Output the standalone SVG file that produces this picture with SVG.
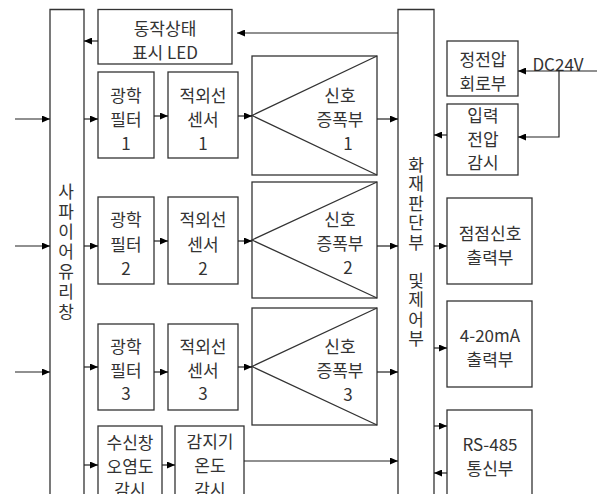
<svg xmlns="http://www.w3.org/2000/svg" width="597" height="494" viewBox="0 0 597 494">
<defs>
<marker id="ah" markerWidth="8" markerHeight="7" refX="8" refY="3.5" orient="auto" markerUnits="userSpaceOnUse">
<path d="M0,0 L8,3.5 L0,7 z" fill="#000"/>
</marker>
<style>
.b{fill:#fff;stroke:#333;stroke-width:1.3}
.l{fill:none;stroke:#333;stroke-width:1.3}
.c{fill:none;stroke:#222;stroke-width:1.2;marker-end:url(#ah)}
text{font-family:"Noto Sans CJK KR","Liberation Sans",sans-serif;font-size:17px;fill:#333;text-anchor:middle;dominant-baseline:central}
.v{writing-mode:vertical-rl;text-orientation:upright;text-anchor:start}
</style>
</defs>
<rect width="597" height="494" fill="#fff"/>
<g id="glass"><path class="l" d="M50,494 V9.5 H84 V494"/>
<text class="v" x="66" y="183" style="letter-spacing:3px">사파이어유리창</text></g>
<g id="control"><path class="l" d="M398,494 V9.5 H434 V494"/>
<text class="v" x="416" y="156" style="letter-spacing:2.5px">화재판단부</text>
<text class="v" x="416" y="272" style="letter-spacing:2.5px">및제어부</text></g>
<g id="led"><rect class="b" x="98" y="9.5" width="134" height="54.5"/><text x="165" y="27"><tspan x="165">동작상태</tspan><tspan x="165" dy="24">표시 LED</tspan></text></g>
<g id="filter1"><rect class="b" x="98" y="72" width="56" height="86"/><text y="94"><tspan x="126">광학</tspan><tspan x="126" dy="24">필터</tspan><tspan x="126" dy="24">1</tspan></text></g>
<g id="sensor1"><rect class="b" x="168" y="72" width="70" height="86"/><text y="94"><tspan x="203">적외선</tspan><tspan x="203" dy="24">센서</tspan><tspan x="203" dy="24">1</tspan></text></g>
<g id="filter2"><rect class="b" x="98" y="197" width="56" height="87"/><text y="218"><tspan x="126">광학</tspan><tspan x="126" dy="25">필터</tspan><tspan x="126" dy="24">2</tspan></text></g>
<g id="sensor2"><rect class="b" x="168" y="197" width="70" height="87"/><text y="218"><tspan x="203">적외선</tspan><tspan x="203" dy="25">센서</tspan><tspan x="203" dy="24">2</tspan></text></g>
<g id="filter3"><rect class="b" x="98" y="324" width="56" height="86"/><text y="345"><tspan x="126">광학</tspan><tspan x="126" dy="24">필터</tspan><tspan x="126" dy="23">3</tspan></text></g>
<g id="sensor3"><rect class="b" x="168" y="324" width="70" height="86"/><text y="345"><tspan x="203">적외선</tspan><tspan x="203" dy="24">센서</tspan><tspan x="203" dy="23">3</tspan></text></g>
<g id="amp1"><rect class="b" x="252" y="56" width="125" height="119"/><path class="l" d="M377,56 L252,115.5 L377,175"/><text y="94"><tspan x="340">신호</tspan><tspan x="340" dy="24">증폭부</tspan><tspan x="348" dy="23.5">1</tspan></text></g>
<g id="amp2"><rect class="b" x="252" y="182" width="125" height="116"/><path class="l" d="M377,182 L252,240 L377,298"/><text y="218"><tspan x="340">신호</tspan><tspan x="340" dy="24">증폭부</tspan><tspan x="348" dy="24">2</tspan></text></g>
<g id="amp3"><rect class="b" x="252" y="308" width="125" height="117"/><path class="l" d="M377,308 L252,366.5 L377,425"/><text y="345"><tspan x="340">신호</tspan><tspan x="340" dy="23.5">증폭부</tspan><tspan x="348" dy="24">3</tspan></text></g>
<g id="window"><rect class="b" x="98" y="426" width="64" height="80"/><text y="441"><tspan x="130">수신창</tspan><tspan x="130" dy="23.5">오염도</tspan><tspan x="130" dy="23.5">감시</tspan></text></g>
<g id="temp"><rect class="b" x="175" y="426" width="69" height="80"/><text y="440"><tspan x="210">감지기</tspan><tspan x="210" dy="24">온도</tspan><tspan x="210" dy="23.5">감시</tspan></text></g>
<g id="regulator"><rect class="b" x="447" y="41" width="71" height="55"/><text y="58"><tspan x="483">정전압</tspan><tspan x="483" dy="24">회로부</tspan></text></g>
<g id="vmon"><rect class="b" x="447" y="104" width="71" height="71"/><text y="114"><tspan x="483">입력</tspan><tspan x="483" dy="23.5">전압</tspan><tspan x="483" dy="23.5">감시</tspan></text></g>
<g id="contact"><rect class="b" x="447" y="198" width="85" height="86"/><text y="232"><tspan x="490">점점신호</tspan><tspan x="490" dy="23.5">출력부</tspan></text></g>
<g id="ma"><rect class="b" x="447" y="301" width="85" height="86"/><text y="334"><tspan x="490">4-20mA</tspan><tspan x="490" dy="23.5">출력부</tspan></text></g>
<g id="rs485"><rect class="b" x="447" y="410" width="85" height="96"/><text y="443"><tspan x="490">RS-485</tspan><tspan x="490" dy="24">통신부</tspan></text></g>
<g id="dc"><text x="558" y="63">DC24V</text></g>
<g id="connectors">
<line class="c" x1="15" y1="119" x2="50" y2="119"/>
<line class="c" x1="15" y1="246" x2="50" y2="246"/>
<line class="c" x1="15" y1="372" x2="50" y2="372"/>
<line class="c" x1="84" y1="119" x2="98" y2="119"/>
<line class="c" x1="154" y1="116" x2="168" y2="116"/>
<line class="c" x1="238" y1="116" x2="252" y2="116"/>
<line class="c" x1="377" y1="119" x2="398" y2="119"/>
<line class="c" x1="84" y1="246" x2="98" y2="246"/>
<line class="c" x1="154" y1="241" x2="168" y2="241"/>
<line class="c" x1="238" y1="241" x2="252" y2="241"/>
<line class="c" x1="377" y1="246" x2="398" y2="246"/>
<line class="c" x1="84" y1="367" x2="98" y2="367"/>
<line class="c" x1="154" y1="372" x2="168" y2="372"/>
<line class="c" x1="238" y1="367" x2="252" y2="367"/>
<line class="c" x1="377" y1="372" x2="398" y2="372"/>
<line class="c" x1="84" y1="465" x2="98" y2="465"/>
<line class="c" x1="162" y1="465" x2="175" y2="465"/>
<line class="c" x1="244" y1="461" x2="398" y2="461"/>
<line class="c" x1="398" y1="33" x2="237" y2="33"/>
<line class="c" x1="98" y1="41" x2="84" y2="41"/>
<line class="c" x1="447" y1="135" x2="434" y2="135"/>
<line class="c" x1="434" y1="246" x2="447" y2="246"/>
<line class="c" x1="434" y1="348" x2="447" y2="348"/>
<line class="c" x1="434" y1="426" x2="447" y2="426"/>
<line class="c" x1="447" y1="473" x2="434" y2="473"/>
<line class="c" x1="597" y1="71" x2="518" y2="71"/>
<polyline class="c" points="559,71 559,137 518,137"/>
</g>
</svg>
